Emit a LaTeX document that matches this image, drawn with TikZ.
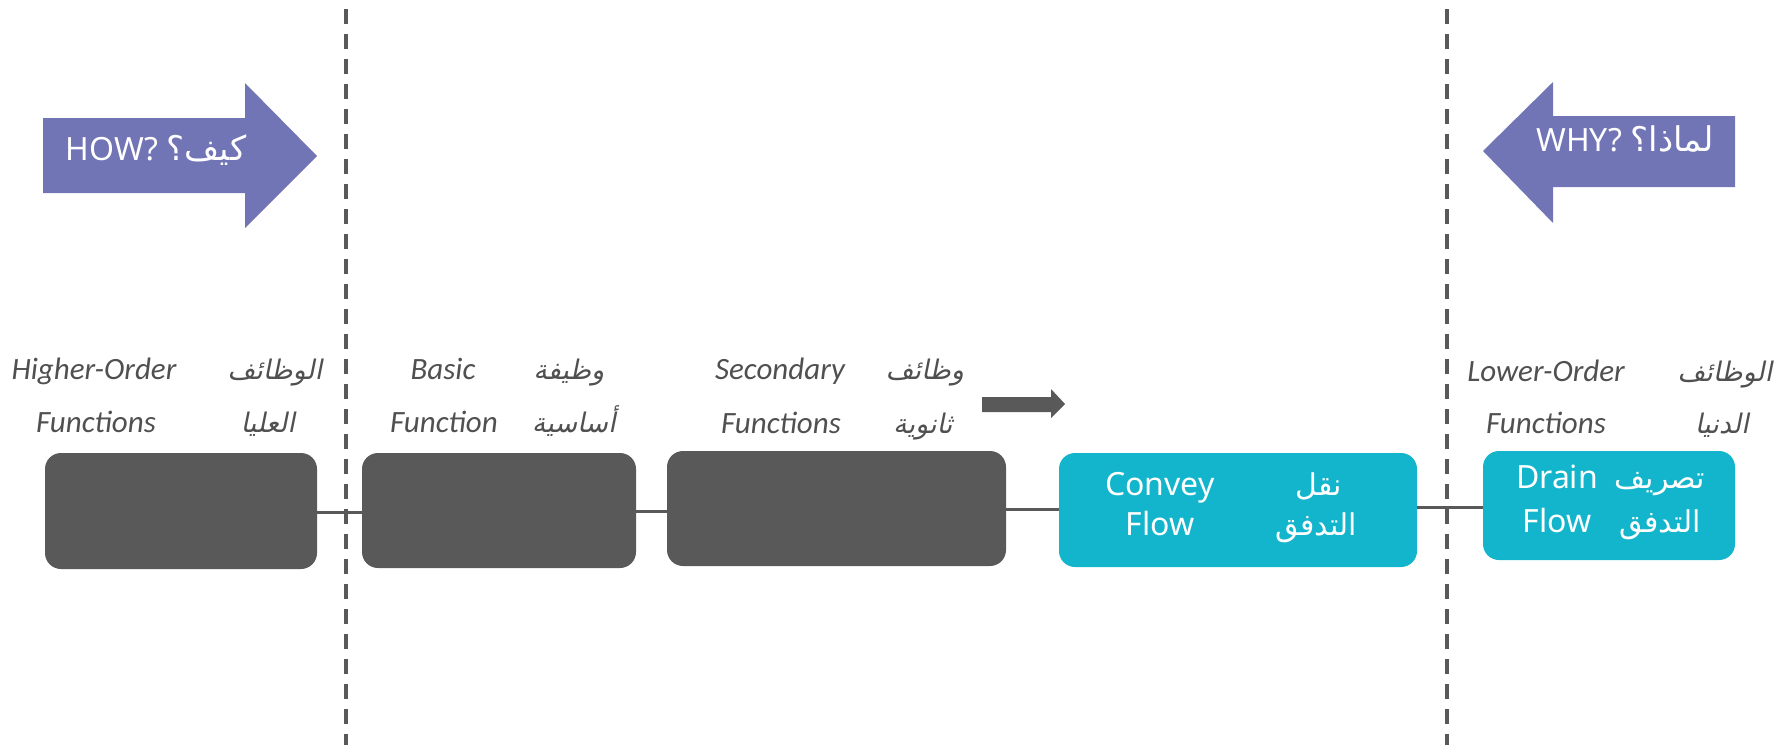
\documentclass[tikz,border=0pt]{standalone}
\usepackage{fontspec}
\setmainfont{Noto Sans}
\newfontfamily\labelfont{Carlito}
\newfontfamily\arabicfont[Script=Arabic]{DejaVu Sans}
\newfontfamily\arabicslant[Script=Arabic,FakeSlant=0.2]{DejaVu Sans}
\TeXXeTstate=1
\definecolor{darkbox}{HTML}{595959}
\definecolor{cyanbox}{HTML}{12B5CB}
\definecolor{purplearrow}{HTML}{7174B5}
\definecolor{labelgray}{HTML}{505050}
\begin{document}
\begin{tikzpicture}[x=1pt,y=-1pt,
  boxdark/.style={draw=none,fill=darkbox,rounded corners=16pt,inner sep=0pt},
  boxcyan/.style={draw=none,fill=cyanbox,rounded corners=16pt,inner sep=0pt},
  lbl/.style={anchor=base,inner sep=0pt,text=labelgray,font=\labelfont\itshape\fontsize{31}{36}\selectfont},
  lblar/.style={anchor=base,inner sep=0pt,text=labelgray,font=\arabicslant\fontsize{27}{32}\selectfont},
  intext/.style={anchor=base,inner sep=0pt,text=white,font=\fontsize{32}{38}\selectfont},
  inar/.style={anchor=base,inner sep=0pt,text=white,font=\arabicfont\fontsize{30}{36}\selectfont},
  arrowtext/.style={anchor=base,inner sep=0pt,text=white,font=\fontsize{32}{38}\selectfont},
  bigarrow/.style={fill=purplearrow,draw=none},
  dashline/.style={draw=darkbox,line width=3.5pt,dash pattern=on 15pt off 10pt},
  link/.style={draw=darkbox,line width=3pt}]
\useasboundingbox (0,0) rectangle (1785,745);

% dashed boundaries of the system
\draw[dashline] (346,9) -- (346,745);
\draw[dashline] (1447,9) -- (1447,745);

% HOW? arrow (pointing right)
\fill[bigarrow] (43,118) -- (245,118) -- (245,83) -- (317,156) -- (245,228) -- (245,193) -- (43,193) -- cycle;
\node[arrowtext] (how) at (156,160) {HOW? {\arabicfont\fontsize{34}{38}\selectfont\beginR كيف؟\endR}};

% WHY? arrow (pointing left)
\fill[bigarrow] (1735,116) -- (1553,116) -- (1553,82) -- (1483,151) -- (1553,223) -- (1553,187) -- (1735,187) -- cycle;
\node[arrowtext] (why) at (1625,151) {WHY? {\arabicfont\fontsize{34}{38}\selectfont\beginR لماذا؟\endR}};

% function boxes
\node[boxdark,minimum width=272pt,minimum height=116pt] (b1) at (181,511) {};
\node[boxdark,minimum width=274pt,minimum height=115pt] (b2) at (499,510.5) {};
\node[boxdark,minimum width=339pt,minimum height=115pt] (b3) at (836.5,508.5) {};
\node[boxcyan,minimum width=358pt,minimum height=114pt] (b4) at (1238,510) {};
\node[boxcyan,minimum width=252pt,minimum height=109pt] (b5) at (1609,505.5) {};

% horizontal links between the boxes
\draw[link] (b1.east |- 0,512) -- (b2.west |- 0,512);
\draw[link] (b2.east |- 0,511) -- (b3.west |- 0,511);
\draw[link] (b3.east |- 0,509) -- (b4.west |- 0,509);
\draw[link] (b4.east |- 0,507) -- (b5.west |- 0,507);

% small direction arrow
\fill[darkbox] (982,397) -- (1051,397) -- (1051,389) -- (1065,404) -- (1051,418) -- (1051,412) -- (982,412) -- cycle;

% column headings
\node[lbl] (h1a) at (94,379) {Higher-Order};
\node[lblar] (h1b) at (275,379) {\beginR الوظائف\endR};
\node[lbl] (h1c) at (96,432) {Functions};
\node[lblar] (h1d) at (268,432) {\beginR العليا\endR};

\node[lbl] (h2a) at (443,379) {Basic};
\node[lblar] (h2b) at (569,379) {\beginR وظيفة\endR};
\node[lbl] (h2c) at (444,432) {Function};
\node[lblar] (h2d) at (574,432) {\beginR أساسية\endR};

\node[lbl] (h3a) at (780,379) {Secondary};
\node[lblar] (h3b) at (925,379) {\beginR وظائف\endR};
\node[lbl] (h3c) at (781,433) {Functions};
\node[lblar] (h3d) at (923,433) {\beginR ثانوية\endR};

\node[lbl] (h5a) at (1546,381) {Lower-Order};
\node[lblar] (h5b) at (1725,381) {\beginR الوظائف\endR};
\node[lbl] (h5c) at (1546,433) {Functions};
\node[lblar] (h5d) at (1722,433) {\beginR الدنيا\endR};

% box texts
\node[intext] (t4a) at (1160,495) {Convey};
\node[intext] (t4b) at (1160,535) {Flow};
\node[inar] (t4c) at (1319,495) {\beginR نقل\endR};
\node[inar] (t4d) at (1316,535) {\beginR التدفق\endR};

\node[intext] (t5a) at (1557,488) {Drain};
\node[intext] (t5b) at (1557,532) {Flow};
\node[inar] (t5c) at (1660,488) {\beginR تصريف\endR};
\node[inar] (t5d) at (1660,532) {\beginR التدفق\endR};
\end{tikzpicture}
\end{document}
